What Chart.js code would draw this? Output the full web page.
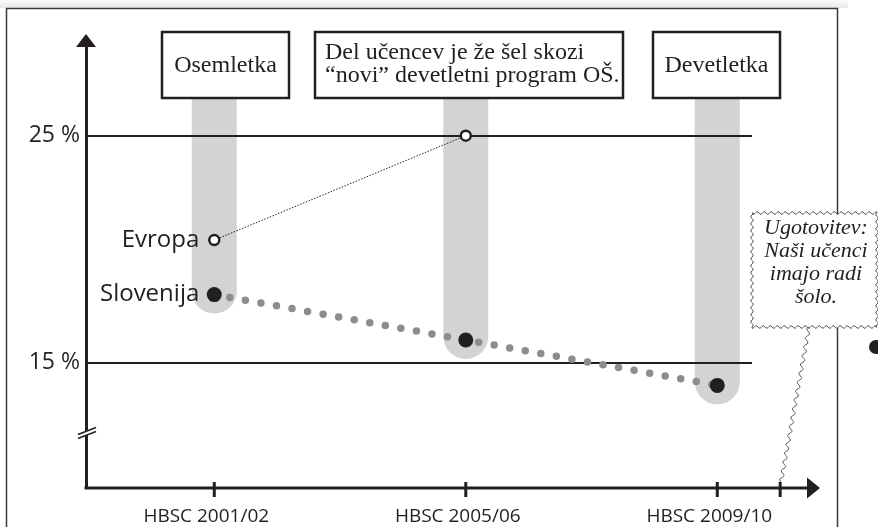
<!DOCTYPE html>
<html><head><meta charset="utf-8">
<script src="https://cdn.jsdelivr.net/npm/chart.js@4"></script>
<style>html,body{margin:0;padding:0;background:#fff;}canvas{display:block}</style>
</head><body>
<canvas id="c" width="878" height="527"></canvas>
<script>
const categories = ['HBSC 2001/02', 'HBSC 2005/06', 'HBSC 2009/10'];
const seriesNames = ['Slovenija', 'Evropa'];
const slovenija = [18.0, 16.0, 14.0];
const evropa = [20.4, 25.0, null];
const yTickValues = [15, 25];
const xTickMarks = [0, 1, 2, 2.25];
const periodBoxes = ['Osemletka', 'Del učencev je že šel skozi\n“novi” devetletni program OŠ.', 'Devetletka'];
const calloutText = ['Ugotovitev:', 'Naši učenci', 'imajo radi', 'šolo.'];

const INK = '#231f20';
const SANS = '"Open Sans", "Noto Sans", sans-serif';
const SERIF = '"Liberation Serif", serif';

function wavy(ctx, x0, y0, x1, y1, amp, wl, first) {
  const dx = x1 - x0, dy = y1 - y0, len = Math.hypot(dx, dy);
  const nx = -dy / len, ny = dx / len;
  const n = Math.ceil(len);
  for (let s = 0; s <= n; s++) {
    const t = s / n;
    const off = Math.sin(t * len / wl * 2 * Math.PI) * amp;
    const px = x0 + dx * t + nx * off, py = y0 + dy * t + ny * off;
    if (s === 0 && first) ctx.moveTo(px, py); else ctx.lineTo(px, py);
  }
}

const deco = {
  id: 'deco',
  beforeDraw(chart) {
    const { ctx, scales: { x, y } } = chart;
    ctx.save();
    const g = ctx.createLinearGradient(0, 0, 0, 8);
    g.addColorStop(0, 'rgba(0,0,0,0.02)');
    g.addColorStop(1, 'rgba(0,0,0,0.09)');
    ctx.fillStyle = g;
    ctx.fillRect(0, 0, 848, 8);
    ctx.strokeStyle = '#3a3a3a';
    ctx.lineWidth = 1.5;
    ctx.beginPath();
    ctx.moveTo(6.5, 527); ctx.lineTo(6.5, 8.5); ctx.lineTo(837.5, 8.5); ctx.lineTo(837.5, 527);
    ctx.stroke();
    ctx.fillStyle = '#d1d3d4';
    categories.forEach((c, i) => {
      const cx = x.getPixelForValue(i), top = 98, r = 22.5;
      const bot = y.getPixelForValue(slovenija[i]) + 19;
      ctx.beginPath();
      ctx.moveTo(cx - r, top);
      ctx.lineTo(cx - r, bot - r);
      ctx.arc(cx, bot - r, r, Math.PI, 0, true);
      ctx.lineTo(cx + r, top);
      ctx.closePath();
      ctx.fill();
    });
    ctx.restore();
  },
  afterDraw(chart) {
    const { ctx, chartArea: ca, scales: { x, y } } = chart;
    ctx.save();
    const ax = ca.left, ay = ca.bottom;
    ctx.strokeStyle = INK; ctx.fillStyle = INK;
    ctx.lineWidth = 3;
    ctx.beginPath(); ctx.moveTo(ax, ca.top + 1); ctx.lineTo(ax, 44); ctx.stroke();
    ctx.beginPath(); ctx.moveTo(ax, 34); ctx.lineTo(ax - 10, 47); ctx.lineTo(ax + 10, 47); ctx.closePath(); ctx.fill();
    ctx.beginPath(); ctx.moveTo(ax - 1.5, ay); ctx.lineTo(810, ay); ctx.stroke();
    ctx.beginPath(); ctx.moveTo(820, ay); ctx.lineTo(807, ay - 10.5); ctx.lineTo(807, ay + 10.5); ctx.closePath(); ctx.fill();
    xTickMarks.forEach(v => {
      const px = x.getPixelForValue(v);
      ctx.beginPath(); ctx.moveTo(px, ay - 6); ctx.lineTo(px, ay + 9); ctx.stroke();
    });
    ctx.fillStyle = '#fff';
    ctx.beginPath(); ctx.moveTo(ax - 4, 436.5); ctx.lineTo(ax + 4, 433.5); ctx.lineTo(ax + 4, 429.5); ctx.lineTo(ax - 4, 432.5); ctx.closePath(); ctx.fill();
    ctx.lineWidth = 1.6;
    ctx.beginPath(); ctx.moveTo(ax - 8, 438.5); ctx.lineTo(ax + 10, 431.5); ctx.stroke();
    ctx.beginPath(); ctx.moveTo(ax - 8, 434.5); ctx.lineTo(ax + 10, 427.5); ctx.stroke();

    const boxes = [[162, 32, 289, 98], [315, 32, 623, 98], [653, 32, 780, 98]];
    ctx.font = '24px ' + SERIF;
    ctx.textBaseline = 'middle';
    periodBoxes.forEach((txt, i) => {
      const [l, t, r, b] = boxes[i];
      ctx.fillStyle = '#fff';
      ctx.fillRect(l, t, r - l, b - t);
      ctx.strokeStyle = INK; ctx.lineWidth = 2.5;
      ctx.strokeRect(l, t, r - l, b - t);
      ctx.fillStyle = INK;
      const lines = txt.split('\n');
      if (lines.length === 1) {
        ctx.textAlign = 'center';
        ctx.fillText(lines[0], (l + r) / 2, (t + b) / 2 + 1);
      } else {
        ctx.textAlign = 'left';
        lines.forEach((ln, k) => ctx.fillText(ln, l + 10, t + 21 + k * 23));
      }
    });

    ctx.font = '24px ' + SANS;
    ctx.textAlign = 'right';
    ctx.fillStyle = INK;
    [0, 1].forEach(di => {
      const p = chart.getDatasetMeta(di).data[0];
      ctx.fillText(chart.data.datasets[di].label, p.x - 15, p.y);
    });

    const cl = 752, ct = 213, cr = 877, cb = 327;
    ctx.fillStyle = '#fff';
    ctx.strokeStyle = '#555';
    ctx.lineWidth = 1;
    ctx.beginPath();
    wavy(ctx, cl, ct, cr, ct, 1.3, 7, true);
    wavy(ctx, cr, ct, cr, cb, 1.3, 7, false);
    wavy(ctx, cr, cb, cl, cb, 1.3, 7, false);
    wavy(ctx, cl, cb, cl, ct, 1.3, 7, false);
    ctx.closePath();
    ctx.fill(); ctx.stroke();
    ctx.beginPath();
    wavy(ctx, 809, cb, 781, ay - 6, 1.8, 9, true);
    ctx.stroke();
    ctx.fillStyle = INK;
    ctx.font = 'italic 22px ' + SERIF;
    ctx.textAlign = 'center';
    calloutText.forEach((ln, k) => ctx.fillText(ln, 816, 228 + k * 23));
    ctx.beginPath(); ctx.arc(876, 347, 7, 0, Math.PI * 2); ctx.fill();
    ctx.restore();
  }
};

new Chart(document.getElementById('c'), {
  type: 'line',
  data: {
    datasets: [
      {
        label: seriesNames[0],
        data: slovenija.map((v, i) => ({ x: i, y: v })),
        borderColor: '#8c8d90',
        borderWidth: 7.5,
        borderDash: [0, 15.8],
        borderCapStyle: 'round',
        pointRadius: 7.5,
        pointBackgroundColor: INK,
        pointBorderWidth: 0,
        tension: 0
      },
      {
        label: seriesNames[1],
        data: evropa.map((v, i) => ({ x: i, y: v })).filter(p => p.y !== null),
        borderColor: INK,
        borderWidth: 1,
        borderDash: [1.5, 1.5],
        pointRadius: 5,
        pointBorderWidth: 2.5,
        pointBorderColor: INK,
        pointBackgroundColor: '#fff',
        tension: 0
      }
    ]
  },
  options: {
    responsive: false,
    animation: false,
    devicePixelRatio: 1,
    layout: { padding: { top: 46, right: 126, bottom: 0, left: 0 } },
    plugins: { legend: { display: false }, tooltip: { enabled: false } },
    scales: {
      x: {
        type: 'linear', min: -0.51, max: 2.138,
        afterBuildTicks: s => { s.ticks = categories.map((c, i) => ({ value: i })); },
        afterFit: s => { s.height = 39; },
        grid: { display: false },
        border: { display: false },
        ticks: {
          callback: v => categories[v],
          font: { family: SANS, size: 19 },
          color: INK,
          padding: 9,
          labelOffset: -8,
          maxRotation: 0,
          autoSkip: false
        }
      },
      y: {
        min: 9.48, max: 28.95,
        afterBuildTicks: s => { s.ticks = yTickValues.map(v => ({ value: v })); },
        afterFit: s => { s.width = 86; },
        grid: { color: INK, lineWidth: 2, drawTicks: false },
        border: { display: true, color: INK, width: 3 },
        ticks: {
          callback: v => v + ' %',
          font: { family: SANS, size: 23 },
          color: INK,
          padding: 6
        }
      }
    }
  },
  plugins: [deco]
});
</script>
</body></html>
